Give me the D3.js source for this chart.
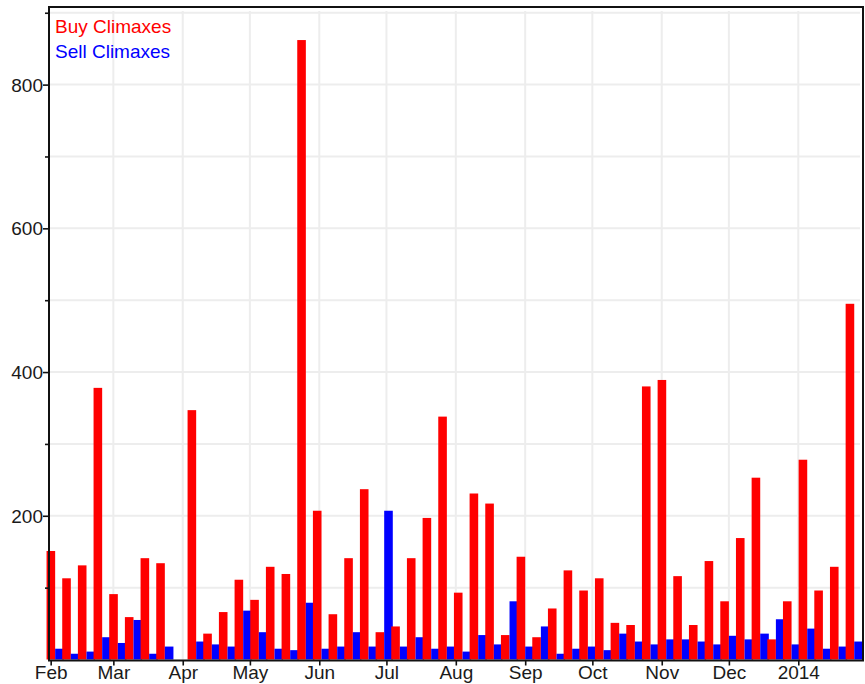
<!DOCTYPE html>
<html>
<head>
<meta charset="utf-8">
<script src="https://cdn.jsdelivr.net/npm/d3@7"></script>
<style>
  html, body { margin: 0; padding: 0; background: #fff; }
  svg { display: block; font-family: "Liberation Sans", Arial, sans-serif; }
</style>
</head>
<body>
<svg id="chart" width="865" height="684"></svg>
<script>
// Weekly climax counts, one pair per week starting Sunday 3 Feb 2013
const firstWeek = Date.UTC(2013, 1, 3);
const buyClimaxes = [
  151, 113, 131, 378, 91, 59, 141, 134, 0, 347,
  36, 66, 111, 83, 129, 119, 862, 207, 63, 141,
  237, 38, 46, 141, 197, 338, 93, 231, 217, 34,
  143, 31, 71, 124, 96, 113, 51, 48, 380, 389,
  116, 48, 137, 81, 169, 253, 28, 81, 278, 96,
  129, 495
];
const sellClimaxes = [
  15, 8, 11, 31, 23, 55, 8, 18, 0, 25,
  21, 18, 68, 38, 15, 13, 79, 15, 18, 38,
  18, 207, 18, 31, 15, 18, 11, 34, 21, 81,
  18, 46, 8, 15, 18, 13, 36, 25, 21, 28,
  28, 25, 21, 33, 28, 36, 56, 21, 43, 15,
  18, 25
];
const seriesNames = ["Buy Climaxes", "Sell Climaxes"];
const seriesColors = ["#ff0000", "#0000ff"];
const yLabelTicks = [200, 400, 600, 800];
const yMinorTicks = [100, 300, 500, 700, 900];
const yGridTicks = [100, 200, 300, 400, 500, 600, 700, 800, 900];

const weeks = buyClimaxes.map((b, i) => ({
  date: new Date(firstWeek + i * 7 * 864e5),
  buy: b,
  sell: sellClimaxes[i]
}));

const W = 865, H = 684;
const plot = { left: 49, right: 863, top: 7, bottom: 659.5 };
const barW = 8.6;

const svg = d3.select("#chart");

const x = d3.scaleUtc()
  .domain([new Date(Date.UTC(2013, 0, 31, 6)), new Date(Date.UTC(2014, 0, 29, 22))])
  .range([plot.left, plot.right]);
const y = d3.scaleLinear()
  .domain([0, 908])
  .range([plot.bottom, plot.top]);

const monthTicks = x.ticks(d3.utcMonth.every(1));
const fmtMonth = d => d.getUTCMonth() === 0 ? d3.utcFormat("%Y")(d) : d3.utcFormat("%b")(d);

// grid
const grid = svg.append("g").attr("stroke", "#ededed").attr("stroke-width", 2);
grid.selectAll("line.h").data(yGridTicks).join("line")
  .attr("x1", plot.left).attr("x2", plot.right - 3)
  .attr("y1", d => y(d)).attr("y2", d => y(d));
grid.selectAll("line.v").data(monthTicks.slice(1)).join("line")
  .attr("x1", d => x(d)).attr("x2", d => x(d))
  .attr("y1", plot.top + 4).attr("y2", plot.bottom);

// bars
svg.append("clipPath").attr("id", "clip")
  .append("rect").attr("x", 0).attr("y", 0).attr("width", plot.right).attr("height", H);

const bars = svg.append("g").attr("clip-path", "url(#clip)");
const wk = bars.selectAll("g.week").data(weeks).join("g").attr("class", "week");
wk.append("rect")
  .attr("x", d => x(d.date) - barW)
  .attr("width", barW)
  .attr("y", d => y(d.buy))
  .attr("height", d => y(0) - y(d.buy))
  .attr("fill", seriesColors[0]);
wk.append("rect")
  .attr("x", d => x(d.date))
  .attr("width", barW)
  .attr("y", d => y(d.sell))
  .attr("height", d => y(0) - y(d.sell))
  .attr("fill", seriesColors[1]);

// frame
svg.append("rect")
  .attr("x", plot.left).attr("y", plot.top)
  .attr("width", plot.right - plot.left).attr("height", plot.bottom + 1 - plot.top)
  .attr("fill", "none").attr("stroke", "#111").attr("stroke-width", 2);

// y axis
const yAxis = svg.append("g")
  .attr("transform", `translate(${plot.left},0)`)
  .call(d3.axisLeft(y).tickValues(yLabelTicks).tickSize(6).tickPadding(0));
svg.append("g")
  .attr("transform", `translate(${plot.left},0)`)
  .call(d3.axisLeft(y).tickValues(yMinorTicks).tickSize(4).tickFormat(""))
  .call(g => g.select(".domain").remove());

// x axis
const xAxis = svg.append("g")
  .attr("transform", `translate(0,${plot.bottom + 1})`)
  .call(d3.axisBottom(x).tickValues(monthTicks).tickFormat(fmtMonth).tickSize(5).tickPadding(0));

svg.selectAll(".tick line").attr("stroke", "#111").attr("stroke-width", 1.6);
svg.selectAll(".domain").remove();
svg.selectAll(".tick text")
  .attr("fill", "#1a1a1a")
  .style("font-family", '"Liberation Sans", Arial, sans-serif')
  .style("font-size", "19px");
yAxis.selectAll(".tick text").attr("dy", "0.35em");

// legend
const legend = svg.append("g").style("font-size", "19px");
seriesNames.forEach((name, i) => {
  legend.append("text")
    .attr("x", 55).attr("y", 32.5 + i * 25.5)
    .attr("fill", seriesColors[i])
    .text(name);
});
</script>
</body>
</html>
